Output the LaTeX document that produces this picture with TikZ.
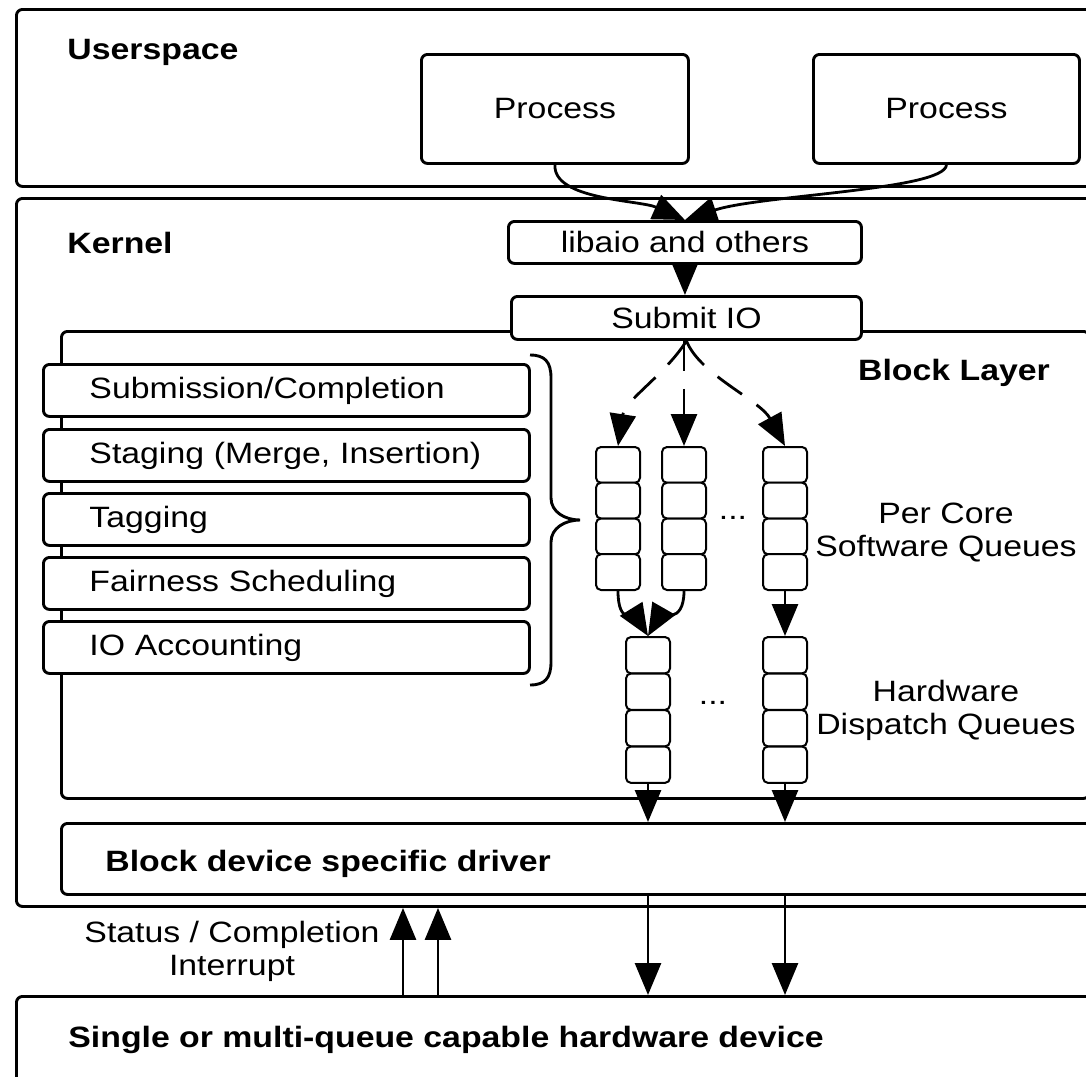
\documentclass[tikz,border=0pt]{standalone}
\usepackage{fontspec}
\setmainfont{Liberation Sans}[FakeStretch=1.15]
\usetikzlibrary{arrows.meta}

\begin{document}
\begin{tikzpicture}[x=0.5pt, y=-0.5pt,
        font=\fontsize{14.7}{16.5}\selectfont,
        box/.style={draw, line width=1.45pt, rounded corners=3pt, fill=white, inner sep=0pt, anchor=north west},
        stackbox/.style={box, minimum height=26pt, text width=197pt, inner xsep=23pt, align=left},
        cell/.style={draw, line width=1pt, rounded corners=2.5pt, fill=white, minimum width=22pt, minimum height=17.9pt, inner sep=0pt},
        hwcell/.style={cell, minimum height=18.2pt},
        title/.style={font=\fontsize{14.7}{16.5}\selectfont\bfseries, anchor=west, inner sep=0pt},
        flow/.style={line width=1.4pt, -{Triangle[length=16pt, width=13pt]}},
        fork/.style={flow, dash pattern=on 15pt off 9pt}]
        \useasboundingbox (0,0) rectangle (1086,1076);
        \clip (0,0) rectangle (1086,1076);

        % layers
        \node[box, minimum width=545pt, minimum height=88.5pt] (user) at (15,8) {};
        \node[box, minimum width=545pt, minimum height=354pt] (kernel) at (15,197) {};
        \node[box, minimum width=514pt, minimum height=233.5pt] (block) at (60,330) {};
        \node[box, minimum width=515pt, minimum height=35.5pt] (driver) at (60,822) {};
        \node[box, minimum width=545pt, minimum height=60pt] (device) at (15,995) {};

        \node[box, minimum width=133.5pt, minimum height=54.5pt] (procL) at (420,53) {Process};
        \node[box, minimum width=133pt, minimum height=54.5pt] (procR) at (812,53) {Process};
        \node[box, minimum width=176.5pt, minimum height=21pt] (libaio) at (507,220) {libaio and others};
        \node[box, minimum width=175pt, minimum height=21.5pt] (submit) at (510,295) {Submit IO};

        % block layer stages
        \node[stackbox] (subm) at (42,363) {Submission/Completion};
        \node[stackbox] (stag) at (42,428) {Staging (Merge, Insertion)};
        \node[stackbox] (tagg) at (42,492) {Tagging};
        \node[stackbox] (fair) at (42,556) {Fairness Scheduling};
        \node[stackbox] (acct) at (42,620) {IO Accounting};
        \draw[line width=1.45pt] (530,355) .. controls (545,355) and (551,362) .. (551,378) -- (551,498)
            .. controls (551,512) and (565,520) .. (580,520) .. controls (565,520) and (551,528) .. (551,542)
            -- (551,662) .. controls (551,678) and (545,685) .. (530,685);

        % software queues
        \node[cell] (sw1-1) at (618,464.9) {};
        \node[cell] (sw1-2) at (618,500.6) {};
        \node[cell] (sw1-3) at (618,536.4) {};
        \node[cell] (sw1-4) at (618,572.1) {};
        \node[cell] (sw2-1) at (684,464.9) {};
        \node[cell] (sw2-2) at (684,500.6) {};
        \node[cell] (sw2-3) at (684,536.4) {};
        \node[cell] (sw2-4) at (684,572.1) {};
        \node[cell] (sw3-1) at (785,464.9) {};
        \node[cell] (sw3-2) at (785,500.6) {};
        \node[cell] (sw3-3) at (785,536.4) {};
        \node[cell] (sw3-4) at (785,572.1) {};

        % hardware queues
        \node[hwcell] (hw1-1) at (648,655.2) {};
        \node[hwcell] (hw1-2) at (648,691.7) {};
        \node[hwcell] (hw1-3) at (648,728.2) {};
        \node[hwcell] (hw1-4) at (648,764.7) {};
        \node[hwcell] (hw2-1) at (785,655.2) {};
        \node[hwcell] (hw2-2) at (785,691.7) {};
        \node[hwcell] (hw2-3) at (785,728.2) {};
        \node[hwcell] (hw2-4) at (785,764.7) {};

        \node (dots1) at (733,518) {...};
        \node (dots2) at (713,703) {...};

        % labels
        \node[title] (userlbl) at (67,52) {Userspace};
        \node[title] (kernlbl) at (67,243) {Kernel};
        \node[title, anchor=center] (blocklbl) at (954,373) {Block Layer};
        \node[title] (driverlbl) at (105,864) {Block device specific driver};
        \node[title] (devicelbl) at (68,1040) {Single or multi-queue capable hardware device};
        \node[align=center] (swlbl) at (946,533) {Per Core\\Software Queues};
        \node[align=center] (hwlbl) at (946,710) {Hardware\\Dispatch Queues};
        \node[align=center] (irqlbl) at (232,951) {Status / Completion\\Interrupt};

        % flow of requests
        \draw[flow] (procL.south) .. controls (553,200) and (640,200) .. (libaio.north);
        \draw[flow] (procR.south) .. controls (945,190) and (760,195) .. (libaio.north);
        \draw[flow] (libaio.south) -- (libaio.south |- submit.north);
        \draw[fork] (submit.south) .. controls (665,375) and (625,400) .. (sw1-1.north);
        \draw[fork] (sw2-1.north |- submit.south) -- (sw2-1.north);
        \draw[fork] (submit.south) .. controls (700,375) and (760,400) .. (sw3-1.north);
        \draw[flow] (sw1-4.south) .. controls (618,625) and (635,615) .. (hw1-1.north);
        \draw[flow] (sw2-4.south) .. controls (684,625) and (660,615) .. (hw1-1.north);
        \draw[flow] (sw3-4.south) -- (hw2-1.north);
        \draw[flow] (hw1-4.south) -- (hw1-4.south |- driver.north);
        \draw[flow] (hw2-4.south) -- (hw2-4.south |- driver.north);
        \draw[flow] (driver.south -| hw1-4.south) -- (hw1-4.south |- device.north);
        \draw[flow] (driver.south -| hw2-4.south) -- (hw2-4.south |- device.north);

        % interrupts
        \coordinate (irqA) at (403,995);
        \coordinate (irqB) at (438,995);
        \draw[flow] (irqA) -- (irqA |- kernel.south);
        \draw[flow] (irqB) -- (irqB |- kernel.south);
    \end{tikzpicture}
\end{document}
